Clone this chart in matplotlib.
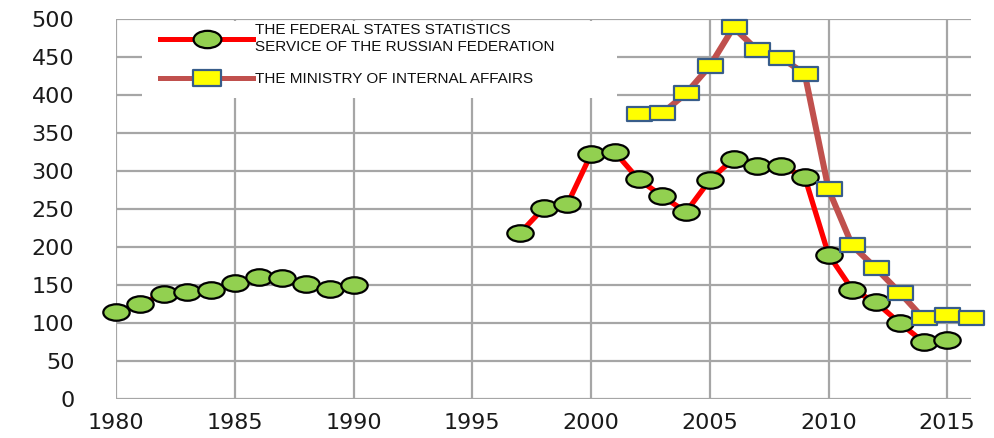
import numpy as np
import matplotlib
matplotlib.use("Agg")
import matplotlib.pyplot as plt
from matplotlib.path import Path
from matplotlib.transforms import Affine2D
from matplotlib.patches import Rectangle
from matplotlib.lines import Line2D

# ---- data ----
fed_years = [1980, 1981, 1982, 1983, 1984, 1985, 1986, 1987, 1988, 1989, 1990,
             1991, 1992, 1993, 1994, 1995, 1996,
             1997, 1998, 1999, 2000, 2001, 2002, 2003, 2004, 2005, 2006,
             2007, 2008, 2009, 2010, 2011, 2012, 2013, 2014, 2015]
fed_values = [114, 125, 138, 141, 143, 152, 161, 159, 151, 145, 150,
              np.nan, np.nan, np.nan, np.nan, np.nan, np.nan,
              218, 251, 256, 322, 325, 289, 267, 246, 288, 316,
              306, 307, 292, 190, 144, 127, 100, 75, 77]
mia_years = [2002, 2003, 2004, 2005, 2006, 2007, 2008, 2009, 2010,
             2011, 2012, 2013, 2014, 2015, 2016]
mia_values = [375, 376, 402, 438, 489, 459, 449, 428, 276,
              202, 172, 140, 106, 111, 107]
fed_label = "THE FEDERAL STATES STATISTICS\nSERVICE OF THE RUSSIAN FEDERATION"
mia_label = "THE MINISTRY OF INTERNAL AFFAIRS"
x_ticks = [1980, 1985, 1990, 1995, 2000, 2005, 2010, 2015]
y_ticks = [0, 50, 100, 150, 200, 250, 300, 350, 400, 450, 500]

# ---- style ----
RED = "#FF0000"
BROWN = "#C0504D"
GREEN = "#92D050"
YELLOW = "#FFFF00"
RECT_EDGE = "#385D8A"
GRID = "#A6A6A6"

ellipse = Path.unit_circle().transformed(Affine2D().scale(1.6, 1.0))
rect = Path([(-1.85, -1), (1.85, -1), (1.85, 1), (-1.85, 1), (-1.85, -1)],
            [Path.MOVETO, Path.LINETO, Path.LINETO, Path.LINETO, Path.CLOSEPOLY])

fig = plt.figure(figsize=(9.95, 4.38), dpi=100)
ax = fig.add_axes([116 / 995, 39 / 438, 855 / 995, 380 / 438])

ax.plot(fed_years, fed_values, color=RED, lw=3.8, marker=ellipse, ms=19,
        mfc=GREEN, mec="black", mew=1.6, zorder=3, clip_on=False,
        solid_capstyle="round", solid_joinstyle="round")
ax.plot(mia_years, mia_values, color=BROWN, lw=4.4, marker=rect, ms=18,
        mfc=YELLOW, mec=RECT_EDGE, mew=1.6, zorder=4, clip_on=False,
        solid_capstyle="round", solid_joinstyle="round")

ax.set_xlim(1980, 2016)
ax.set_ylim(0, 500)
ax.set_xticks(x_ticks)
ax.set_yticks(y_ticks)
ax.set_axisbelow(True)
ax.grid(True, color=GRID, lw=1.6, zorder=0.5)
for s in ax.spines.values():
    s.set_visible(False)
ax.tick_params(axis="both", length=0, labelsize=16, labelcolor="#1a1a1a")
ax.tick_params(axis="y", pad=30)
ax.tick_params(axis="x", pad=10)

# white legend area covering the grid (below the top grid line)
ax.add_patch(Rectangle((26 / 855, 301 / 380), 475 / 855, 77 / 380,
                       transform=ax.transAxes, facecolor="white",
                       edgecolor="none", zorder=1))

h1 = Line2D([], [], color=RED, lw=3.6, marker=ellipse, ms=20, mfc=GREEN,
            mec="black", mew=1.6)
h2 = Line2D([], [], color=BROWN, lw=3.6, marker=rect, ms=20, mfc=YELLOW,
            mec=RECT_EDGE, mew=1.6)
leg = ax.legend([h1, h2], [fed_label, mia_label], loc="upper left",
                bbox_to_anchor=(44 / 855, 1 - 4 / 380), frameon=False,
                borderaxespad=0, borderpad=0, handlelength=6.1,
                handletextpad=0.1, labelspacing=1.15, numpoints=1,
                prop={"family": ["Liberation Sans Narrow", "Liberation Sans", "DejaVu Sans"],
                      "size": 11})
for t in leg.get_texts():
    t.set_linespacing(1.3)
    t.set_color("#111111")
leg.set_zorder(5)

fig.savefig("out.png", dpi=100)
